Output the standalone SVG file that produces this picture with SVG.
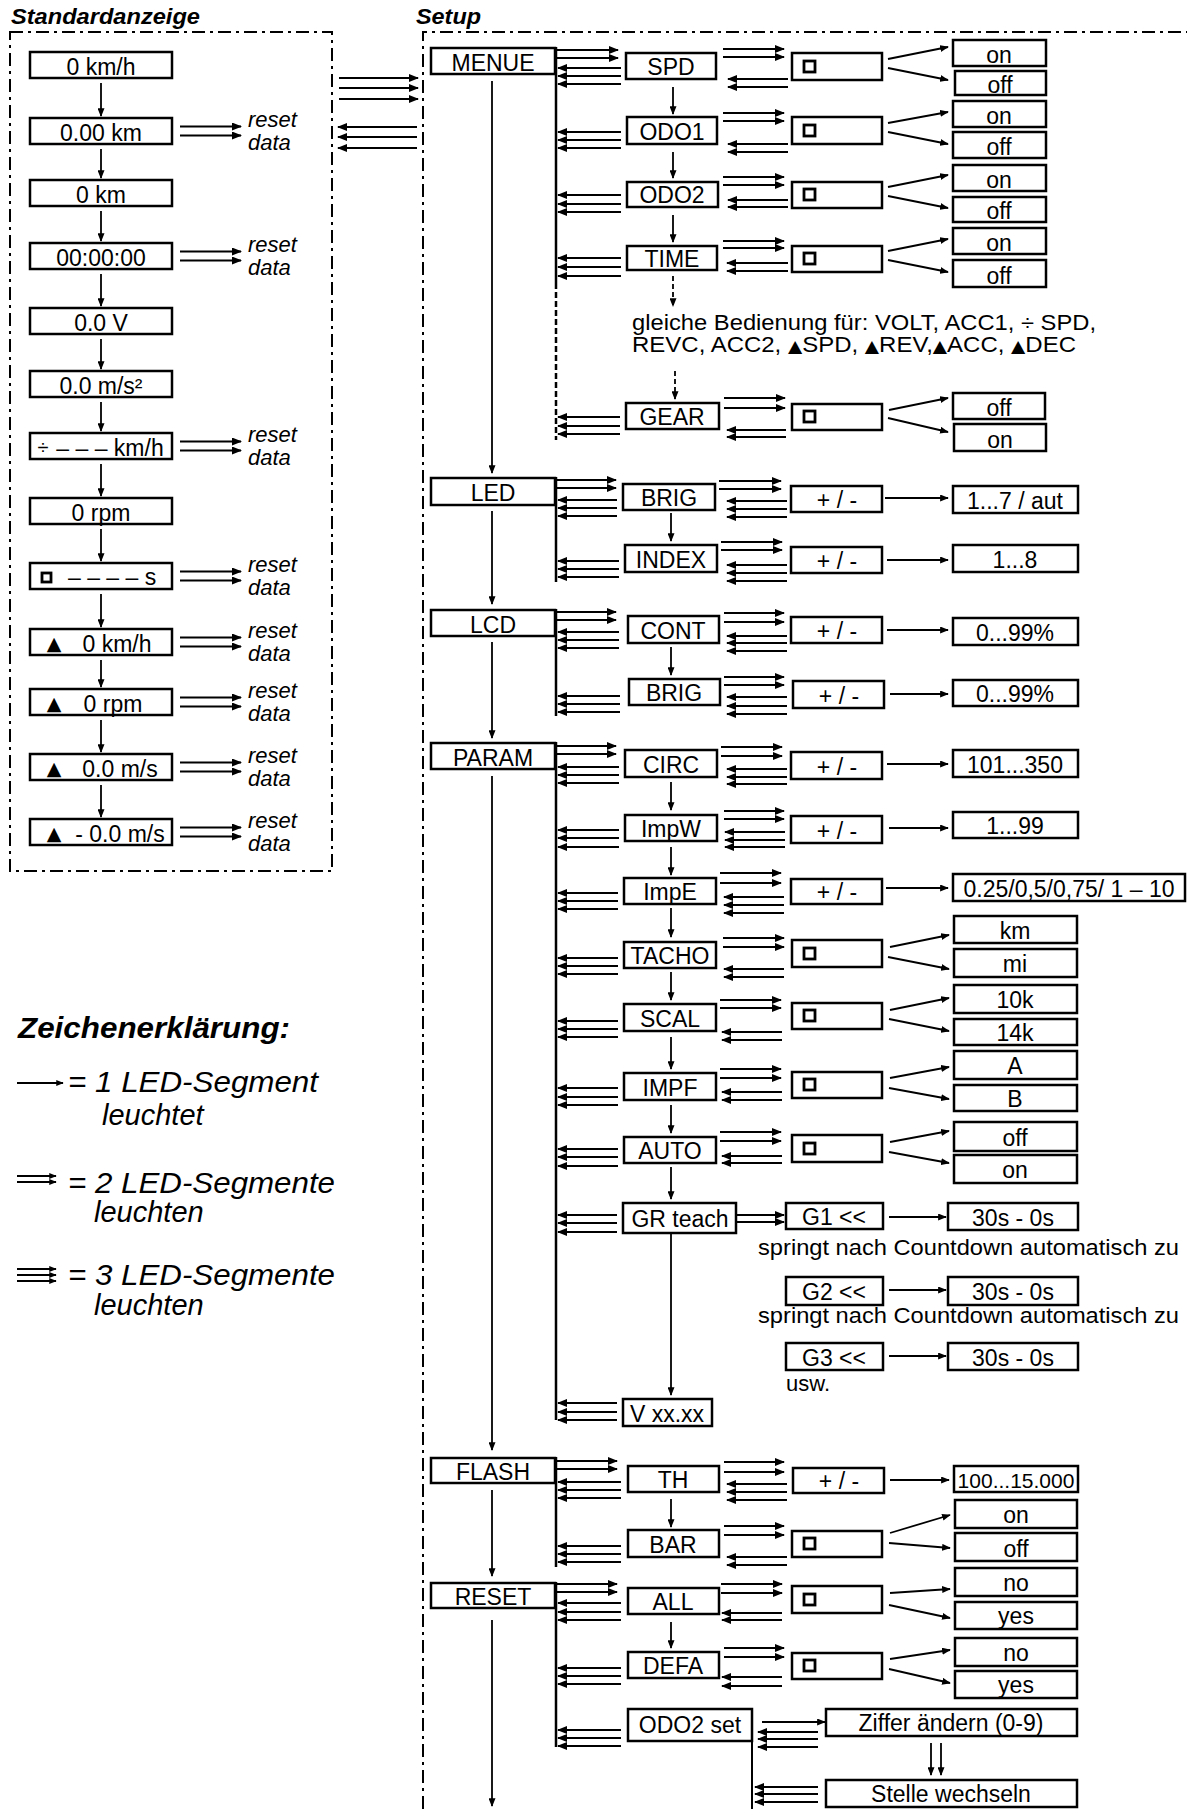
<svg xmlns="http://www.w3.org/2000/svg" width="1187" height="1809" viewBox="0 0 1187 1809">
<defs>
<style>
.b{fill:#fff;stroke:#000;stroke-width:2.5}
.t{font-family:"Liberation Sans",Arial,"DejaVu Sans",sans-serif;font-size:23px;text-anchor:middle;fill:#000}
.s{text-anchor:start}
.i{font-style:italic;text-anchor:start;font-size:22px}
.h{font-weight:bold;font-style:italic;text-anchor:start;font-size:22px}
.tri{font-family:"DejaVu Sans",sans-serif;font-size:19px;text-anchor:middle}
.tr2{font-family:"DejaVu Sans",sans-serif;font-size:17px}
.sq{fill:none;stroke:#000;stroke-width:2.8}
.fr{fill:none;stroke:#000;stroke-width:2;stroke-dasharray:13 5 3 5}
.c line{stroke:#000;stroke-width:1.8}
.ar{marker-end:url(#ah)}
.sm{marker-end:url(#as)}
.lg{marker-end:url(#al)}
.bar line{stroke:#000;stroke-width:2.5}
</style>
<marker id="ah" viewBox="0 0 10 8" refX="9" refY="4" markerWidth="10" markerHeight="8" markerUnits="userSpaceOnUse" orient="auto"><path d="M0,0L10,4L0,8z"/></marker>
<marker id="as" viewBox="0 0 10 8" refX="9" refY="4" markerWidth="9" markerHeight="7" markerUnits="userSpaceOnUse" orient="auto"><path d="M0,0L10,4L0,8z"/></marker>
<marker id="al" viewBox="0 0 10 8" refX="9" refY="4" markerWidth="8" markerHeight="6" markerUnits="userSpaceOnUse" orient="auto"><path d="M0,0L10,4L0,8z"/></marker>
</defs>
<rect width="1187" height="1809" fill="#fff"/>

<g id="frames">
<text class="t h" x="11" y="24" textLength="189" lengthAdjust="spacingAndGlyphs">Standardanzeige</text>
<rect class="fr" x="10" y="32" width="322" height="839"/>
<text class="t h" x="416" y="24" textLength="65" lengthAdjust="spacingAndGlyphs">Setup</text>
<path class="fr" d="M423,1809V32H1187"/>
</g>

<g id="standard">
<g id="sa1"><rect class="b" x="30" y="52" width="142" height="26"/><text class="t" x="101" y="75">0 km/h</text></g>
<g id="sa2"><rect class="b" x="30" y="118" width="142" height="26"/><text class="t" x="101" y="141">0.00 km</text></g>
<g id="sa3"><rect class="b" x="30" y="180" width="142" height="26"/><text class="t" x="101" y="203">0 km</text></g>
<g id="sa4"><rect class="b" x="30" y="243" width="142" height="26"/><text class="t" x="101" y="266">00:00:00</text></g>
<g id="sa5"><rect class="b" x="30" y="308" width="142" height="26"/><text class="t" x="101" y="331">0.0 V</text></g>
<g id="sa6"><rect class="b" x="30" y="371" width="142" height="26"/><text class="t" x="101" y="394">0.0 m/s²</text></g>
<g id="sa7"><rect class="b" x="30" y="433" width="142" height="26"/><text class="t" x="43" y="454" style="font-size:20px">÷</text><text class="t" x="110" y="456">– – – km/h</text></g>
<g id="sa8"><rect class="b" x="30" y="498" width="142" height="26"/><text class="t" x="101" y="521">0 rpm</text></g>
<g id="sa9"><rect class="b" x="30" y="563" width="142" height="26"/><rect class="sq" x="42" y="573" width="9" height="9"/><text class="t s" x="68" y="585">– – – – s</text></g>
<g id="sa10"><rect class="b" x="30" y="629" width="142" height="26"/><text class="tri" x="54" y="650">▲</text><text class="t" x="117" y="652">0 km/h</text></g>
<g id="sa11"><rect class="b" x="30" y="689" width="142" height="26"/><text class="tri" x="54" y="710">▲</text><text class="t" x="113" y="712">0 rpm</text></g>
<g id="sa12"><rect class="b" x="30" y="754" width="142" height="26"/><text class="tri" x="54" y="775">▲</text><text class="t" x="120" y="777">0.0 m/s</text></g>
<g id="sa13"><rect class="b" x="30" y="819" width="142" height="26"/><text class="tri" x="54" y="840">▲</text><text class="t" x="120" y="842">- 0.0 m/s</text></g>
<g id="reset-labels">
<text class="t i" x="248" y="127">reset</text><text class="t i" x="248" y="150">data</text>
<text class="t i" x="248" y="252">reset</text><text class="t i" x="248" y="275">data</text>
<text class="t i" x="248" y="442">reset</text><text class="t i" x="248" y="465">data</text>
<text class="t i" x="248" y="572">reset</text><text class="t i" x="248" y="595">data</text>
<text class="t i" x="248" y="638">reset</text><text class="t i" x="248" y="661">data</text>
<text class="t i" x="248" y="698">reset</text><text class="t i" x="248" y="721">data</text>
<text class="t i" x="248" y="763">reset</text><text class="t i" x="248" y="786">data</text>
<text class="t i" x="248" y="828">reset</text><text class="t i" x="248" y="851">data</text>
</g>
</g>

<g id="setup-main">
<g id="menue"><rect class="b" x="431" y="48" width="124" height="26"/><text class="t" x="493" y="71">MENUE</text></g>
<g id="led"><rect class="b" x="431" y="478" width="124" height="27"/><text class="t" x="493" y="501">LED</text></g>
<g id="lcd"><rect class="b" x="431" y="610" width="124" height="26"/><text class="t" x="493" y="633">LCD</text></g>
<g id="param"><rect class="b" x="431" y="743" width="124" height="26"/><text class="t" x="493" y="766">PARAM</text></g>
<g id="flash"><rect class="b" x="431" y="1458" width="124" height="25"/><text class="t" x="493" y="1480">FLASH</text></g>
<g id="reset"><rect class="b" x="431" y="1583" width="124" height="25"/><text class="t" x="493" y="1605">RESET</text></g>
</g>

<g id="setup-items">
<g id="spd"><rect class="b" x="626" y="53" width="90" height="26"/><text class="t" x="671" y="75">SPD</text></g>
<g id="odo1"><rect class="b" x="627" y="117" width="90" height="27"/><text class="t" x="672" y="140">ODO1</text></g>
<g id="odo2"><rect class="b" x="627" y="182" width="91" height="25"/><text class="t" x="672" y="203">ODO2</text></g>
<g id="time"><rect class="b" x="627" y="246" width="90" height="24"/><text class="t" x="672" y="267">TIME</text></g>
<g id="gleiche"><text class="t s" x="632" y="330" style="font-size:22px" textLength="464" lengthAdjust="spacingAndGlyphs">gleiche Bedienung für: VOLT, ACC1, ÷ SPD,</text><text class="t s" x="632" y="352" style="font-size:22px" textLength="444" lengthAdjust="spacingAndGlyphs">REVC, ACC2, <tspan class="tr2">▲</tspan>SPD, <tspan class="tr2">▲</tspan>REV,<tspan class="tr2">▲</tspan>ACC, <tspan class="tr2">▲</tspan>DEC</text></g>
<g id="gear"><rect class="b" x="626" y="403" width="93" height="26"/><text class="t" x="672" y="425">GEAR</text></g>
<g id="brig1"><rect class="b" x="623" y="484" width="92" height="26"/><text class="t" x="669" y="506">BRIG</text></g>
<g id="index"><rect class="b" x="625" y="545" width="92" height="27"/><text class="t" x="671" y="568">INDEX</text></g>
<g id="cont"><rect class="b" x="628" y="616" width="91" height="27"/><text class="t" x="673" y="639">CONT</text></g>
<g id="brig2"><rect class="b" x="629" y="679" width="91" height="26"/><text class="t" x="674" y="701">BRIG</text></g>
<g id="circ"><rect class="b" x="625" y="750" width="92" height="27"/><text class="t" x="671" y="773">CIRC</text></g>
<g id="impw"><rect class="b" x="625" y="815" width="92" height="26"/><text class="t" x="671" y="837">ImpW</text></g>
<g id="impe"><rect class="b" x="624" y="878" width="92" height="26"/><text class="t" x="670" y="900">ImpE</text></g>
<g id="tacho"><rect class="b" x="624" y="942" width="92" height="26"/><text class="t" x="670" y="964">TACHO</text></g>
<g id="scal"><rect class="b" x="624" y="1004" width="92" height="27"/><text class="t" x="670" y="1027">SCAL</text></g>
<g id="impf"><rect class="b" x="624" y="1073" width="92" height="27"/><text class="t" x="670" y="1096">IMPF</text></g>
<g id="auto"><rect class="b" x="624" y="1137" width="92" height="26"/><text class="t" x="670" y="1159">AUTO</text></g>
<g id="grteach"><rect class="b" x="623" y="1203" width="113" height="30"/><text class="t" x="680" y="1227">GR teach</text></g>
<g id="vxx"><rect class="b" x="623" y="1399" width="89" height="27"/><text class="t" x="667" y="1422">V xx.xx</text></g>
<g id="th"><rect class="b" x="628" y="1466" width="91" height="26"/><text class="t" x="673" y="1488">TH</text></g>
<g id="bar-item"><rect class="b" x="628" y="1530" width="91" height="27"/><text class="t" x="673" y="1553">BAR</text></g>
<g id="all"><rect class="b" x="628" y="1588" width="91" height="26"/><text class="t" x="673" y="1610">ALL</text></g>
<g id="defa"><rect class="b" x="628" y="1652" width="91" height="26"/><text class="t" x="673" y="1674">DEFA</text></g>
<g id="odo2set"><rect class="b" x="628" y="1709" width="124" height="32"/><line x1="752" y1="1741" x2="752" y2="1809" stroke="#000" stroke-width="2"/><text class="t" x="690" y="1733">ODO2 set</text></g>
</g>

<g id="value-boxes">
<g id="v-spd"><rect class="b" x="792" y="53" width="90" height="27"/><rect class="sq" x="804" y="61" width="11" height="11"/></g>
<g id="v-odo1"><rect class="b" x="792" y="117" width="90" height="27"/><rect class="sq" x="804" y="125" width="11" height="11"/></g>
<g id="v-odo2"><rect class="b" x="792" y="182" width="90" height="26"/><rect class="sq" x="804" y="189" width="11" height="11"/></g>
<g id="v-time"><rect class="b" x="792" y="246" width="90" height="26"/><rect class="sq" x="804" y="253" width="11" height="11"/></g>
<g id="v-gear"><rect class="b" x="792" y="404" width="90" height="26"/><rect class="sq" x="804" y="411" width="11" height="11"/></g>
<g id="v-tacho"><rect class="b" x="792" y="940" width="90" height="27"/><rect class="sq" x="804" y="948" width="11" height="11"/></g>
<g id="v-scal"><rect class="b" x="792" y="1003" width="90" height="26"/><rect class="sq" x="804" y="1010" width="11" height="11"/></g>
<g id="v-impf"><rect class="b" x="792" y="1072" width="90" height="26"/><rect class="sq" x="804" y="1079" width="11" height="11"/></g>
<g id="v-auto"><rect class="b" x="792" y="1135" width="90" height="27"/><rect class="sq" x="804" y="1143" width="11" height="11"/></g>
<g id="v-bar"><rect class="b" x="792" y="1531" width="90" height="26"/><rect class="sq" x="804" y="1538" width="11" height="11"/></g>
<g id="v-all"><rect class="b" x="792" y="1586" width="90" height="27"/><rect class="sq" x="804" y="1594" width="11" height="11"/></g>
<g id="v-defa"><rect class="b" x="792" y="1653" width="90" height="26"/><rect class="sq" x="804" y="1660" width="11" height="11"/></g>
<g id="pm-brig1"><rect class="b" x="791" y="486" width="91" height="26"/><text class="t" x="837" y="508">+ / -</text></g>
<g id="pm-index"><rect class="b" x="791" y="547" width="91" height="26"/><text class="t" x="837" y="569">+ / -</text></g>
<g id="pm-cont"><rect class="b" x="791" y="617" width="91" height="26"/><text class="t" x="837" y="639">+ / -</text></g>
<g id="pm-brig2"><rect class="b" x="793" y="681" width="91" height="27"/><text class="t" x="839" y="704">+ / -</text></g>
<g id="pm-circ"><rect class="b" x="791" y="752" width="91" height="27"/><text class="t" x="837" y="775">+ / -</text></g>
<g id="pm-impw"><rect class="b" x="791" y="816" width="91" height="27"/><text class="t" x="837" y="839">+ / -</text></g>
<g id="pm-impe"><rect class="b" x="791" y="879" width="91" height="25"/><text class="t" x="837" y="900">+ / -</text></g>
<g id="pm-th"><rect class="b" x="793" y="1468" width="91" height="25"/><text class="t" x="839" y="1489">+ / -</text></g>
</g>

<g id="results">
<g id="r-spd-on"><rect class="b" x="953" y="40" width="93" height="26"/><text class="t" x="999" y="63">on</text></g>
<g id="r-spd-off"><rect class="b" x="955" y="71" width="91" height="24"/><text class="t" x="1000" y="93">off</text></g>
<g id="r-odo1-on"><rect class="b" x="953" y="101" width="93" height="26"/><text class="t" x="999" y="124">on</text></g>
<g id="r-odo1-off"><rect class="b" x="953" y="132" width="93" height="26"/><text class="t" x="999" y="155">off</text></g>
<g id="r-odo2-on"><rect class="b" x="953" y="165" width="93" height="26"/><text class="t" x="999" y="188">on</text></g>
<g id="r-odo2-off"><rect class="b" x="953" y="197" width="93" height="25"/><text class="t" x="999" y="219">off</text></g>
<g id="r-time-on"><rect class="b" x="953" y="228" width="93" height="26"/><text class="t" x="999" y="251">on</text></g>
<g id="r-time-off"><rect class="b" x="953" y="260" width="93" height="27"/><text class="t" x="999" y="284">off</text></g>
<g id="r-gear-off"><rect class="b" x="953" y="393" width="92" height="26"/><text class="t" x="999" y="416">off</text></g>
<g id="r-gear-on"><rect class="b" x="954" y="424" width="92" height="27"/><text class="t" x="1000" y="448">on</text></g>
<g id="r-brig1"><rect class="b" x="953" y="486" width="125" height="27"/><text class="t" x="1015" y="509">1...7 / aut</text></g>
<g id="r-index"><rect class="b" x="953" y="545" width="125" height="27"/><text class="t" x="1015" y="568">1...8</text></g>
<g id="r-cont"><rect class="b" x="953" y="618" width="125" height="27"/><text class="t" x="1015" y="641">0...99%</text></g>
<g id="r-brig2"><rect class="b" x="953" y="680" width="125" height="26"/><text class="t" x="1015" y="702">0...99%</text></g>
<g id="r-circ"><rect class="b" x="953" y="750" width="125" height="27"/><text class="t" x="1015" y="773">101...350</text></g>
<g id="r-impw"><rect class="b" x="953" y="812" width="125" height="26"/><text class="t" x="1015" y="834">1...99</text></g>
<g id="r-impe"><rect class="b" x="953" y="874" width="232" height="27"/><text class="t" x="1069" y="897">0.25/0,5/0,75/ 1 – 10</text></g>
<g id="r-km"><rect class="b" x="954" y="916" width="123" height="27"/><text class="t" x="1015" y="939">km</text></g>
<g id="r-mi"><rect class="b" x="954" y="949" width="123" height="28"/><text class="t" x="1015" y="972">mi</text></g>
<g id="r-10k"><rect class="b" x="954" y="985" width="123" height="28"/><text class="t" x="1015" y="1008">10k</text></g>
<g id="r-14k"><rect class="b" x="954" y="1019" width="123" height="26"/><text class="t" x="1015" y="1041">14k</text></g>
<g id="r-a"><rect class="b" x="954" y="1051" width="123" height="28"/><text class="t" x="1015" y="1074">A</text></g>
<g id="r-b"><rect class="b" x="954" y="1085" width="123" height="26"/><text class="t" x="1015" y="1107">B</text></g>
<g id="r-auto-off"><rect class="b" x="954" y="1122" width="123" height="29"/><text class="t" x="1015" y="1146">off</text></g>
<g id="r-auto-on"><rect class="b" x="954" y="1155" width="123" height="28"/><text class="t" x="1015" y="1178">on</text></g>
<g id="r-th"><rect class="b" x="954" y="1466" width="124" height="26"/><text class="t" x="1016" y="1488" style="font-size:21px">100...15.000</text></g>
<g id="r-bar-on"><rect class="b" x="955" y="1500" width="122" height="28"/><text class="t" x="1016" y="1523">on</text></g>
<g id="r-bar-off"><rect class="b" x="955" y="1533" width="122" height="28"/><text class="t" x="1016" y="1557">off</text></g>
<g id="r-all-no"><rect class="b" x="955" y="1568" width="122" height="28"/><text class="t" x="1016" y="1591">no</text></g>
<g id="r-all-yes"><rect class="b" x="955" y="1602" width="122" height="27"/><text class="t" x="1016" y="1624">yes</text></g>
<g id="r-defa-no"><rect class="b" x="955" y="1638" width="122" height="28"/><text class="t" x="1016" y="1661">no</text></g>
<g id="r-defa-yes"><rect class="b" x="955" y="1671" width="122" height="27"/><text class="t" x="1016" y="1693">yes</text></g>
<g id="g1"><rect class="b" x="786" y="1203" width="97" height="26"/><text class="t" x="834" y="1225">G1 &lt;&lt;</text></g>
<g id="g1t"><rect class="b" x="948" y="1203" width="130" height="27"/><text class="t" x="1013" y="1226">30s - 0s</text></g>
<g id="g2"><rect class="b" x="786" y="1277" width="97" height="28"/><text class="t" x="834" y="1300">G2 &lt;&lt;</text></g>
<g id="g2t"><rect class="b" x="948" y="1277" width="130" height="28"/><text class="t" x="1013" y="1300">30s - 0s</text></g>
<g id="g3"><rect class="b" x="786" y="1343" width="97" height="27"/><text class="t" x="834" y="1366">G3 &lt;&lt;</text></g>
<g id="g3t"><rect class="b" x="948" y="1343" width="130" height="27"/><text class="t" x="1013" y="1366">30s - 0s</text></g>
<g id="springt"><text class="t s" x="758" y="1255" style="font-size:22px" textLength="421" lengthAdjust="spacingAndGlyphs">springt nach Countdown automatisch zu</text><text class="t s" x="758" y="1323" style="font-size:22px" textLength="421" lengthAdjust="spacingAndGlyphs">springt nach Countdown automatisch zu</text><text class="t s" x="786" y="1391" style="font-size:22px">usw.</text></g>
<g id="ziffer"><rect class="b" x="826" y="1709" width="251" height="27"/><text class="t" x="951" y="1731">Ziffer ändern (0-9)</text></g>
<g id="stelle"><rect class="b" x="826" y="1780" width="251" height="27"/><text class="t" x="951" y="1802">Stelle wechseln</text></g>
</g>

<g id="legend">
<text class="t h" x="18" y="1038" style="font-size:30px" textLength="272" lengthAdjust="spacingAndGlyphs">Zeichenerklärung:</text>
<g class="c"><line class="lg" x1="17" y1="1083" x2="63" y2="1083"/>
<line class="lg" x1="17" y1="1176" x2="56" y2="1176"/><line class="lg" x1="17" y1="1182" x2="56" y2="1182"/>
<line class="lg" x1="17" y1="1269" x2="56" y2="1269"/><line class="lg" x1="17" y1="1275" x2="56" y2="1275"/><line class="lg" x1="17" y1="1281" x2="56" y2="1281"/></g>
<text class="t i" x="68" y="1092" style="font-size:29px" textLength="250" lengthAdjust="spacingAndGlyphs">= 1 LED-Segment</text>
<text class="t i" x="102" y="1125" style="font-size:29px">leuchtet</text>
<text class="t i" x="68" y="1193" style="font-size:29px" textLength="267" lengthAdjust="spacingAndGlyphs">= 2 LED-Segmente</text>
<text class="t i" x="94" y="1222" style="font-size:29px">leuchten</text>
<text class="t i" x="68" y="1285" style="font-size:29px" textLength="267" lengthAdjust="spacingAndGlyphs">= 3 LED-Segmente</text>
<text class="t i" x="94" y="1315" style="font-size:29px">leuchten</text>
</g>

<g id="connectors" class="c">
<g class="bar">
<line x1="556" y1="47" x2="556" y2="283"/>
<line x1="556" y1="283" x2="556" y2="440" style="stroke-dasharray:6 3"/>
<line x1="556" y1="477" x2="556" y2="582"/>
<line x1="556" y1="609" x2="556" y2="716"/>
<line x1="556" y1="742" x2="556" y2="1420"/>
<line x1="556" y1="1457" x2="556" y2="1567"/>
<line x1="556" y1="1582" x2="556" y2="1747"/>
</g>
<line class="sm" x1="101" y1="83" x2="101" y2="116"/>
<line class="sm" x1="101" y1="149" x2="101" y2="178"/>
<line class="sm" x1="101" y1="211" x2="101" y2="241"/>
<line class="sm" x1="101" y1="274" x2="101" y2="306"/>
<line class="sm" x1="101" y1="339" x2="101" y2="369"/>
<line class="sm" x1="101" y1="402" x2="101" y2="431"/>
<line class="sm" x1="101" y1="464" x2="101" y2="496"/>
<line class="sm" x1="101" y1="529" x2="101" y2="561"/>
<line class="sm" x1="101" y1="594" x2="101" y2="627"/>
<line class="sm" x1="101" y1="660" x2="101" y2="687"/>
<line class="sm" x1="101" y1="720" x2="101" y2="752"/>
<line class="sm" x1="101" y1="785" x2="101" y2="817"/>
<line class="ar" x1="180" y1="126.5" x2="241" y2="126.5"/><line class="ar" x1="180" y1="135.5" x2="241" y2="135.5"/>
<line class="ar" x1="180" y1="251.5" x2="241" y2="251.5"/><line class="ar" x1="180" y1="260.5" x2="241" y2="260.5"/>
<line class="ar" x1="180" y1="441.5" x2="241" y2="441.5"/><line class="ar" x1="180" y1="450.5" x2="241" y2="450.5"/>
<line class="ar" x1="180" y1="571.5" x2="241" y2="571.5"/><line class="ar" x1="180" y1="580.5" x2="241" y2="580.5"/>
<line class="ar" x1="180" y1="637.5" x2="241" y2="637.5"/><line class="ar" x1="180" y1="646.5" x2="241" y2="646.5"/>
<line class="ar" x1="180" y1="697.5" x2="241" y2="697.5"/><line class="ar" x1="180" y1="706.5" x2="241" y2="706.5"/>
<line class="ar" x1="180" y1="762.5" x2="241" y2="762.5"/><line class="ar" x1="180" y1="771.5" x2="241" y2="771.5"/>
<line class="ar" x1="180" y1="827.5" x2="241" y2="827.5"/><line class="ar" x1="180" y1="836.5" x2="241" y2="836.5"/>
<line class="ar" x1="339" y1="78" x2="418" y2="78"/><line class="ar" x1="339" y1="88" x2="418" y2="88"/><line class="ar" x1="339" y1="99" x2="418" y2="99"/>
<line class="ar" x1="417" y1="127" x2="338" y2="127"/><line class="ar" x1="417" y1="137" x2="338" y2="137"/><line class="ar" x1="417" y1="148" x2="338" y2="148"/>
<line class="sm" x1="492" y1="81" x2="492" y2="473"/>
<line class="sm" x1="492" y1="511" x2="492" y2="604"/>
<line class="sm" x1="492" y1="642" x2="492" y2="738"/>
<line class="sm" x1="492" y1="776" x2="492" y2="1450"/>
<line class="sm" x1="492" y1="1490" x2="492" y2="1576"/>
<line class="sm" x1="492" y1="1620" x2="492" y2="1806"/>
<line class="ar" x1="557" y1="50" x2="618" y2="50"/><line class="ar" x1="557" y1="58" x2="618" y2="58"/>
<line class="ar" x1="557" y1="480" x2="616" y2="480"/><line class="ar" x1="557" y1="488" x2="616" y2="488"/>
<line class="ar" x1="557" y1="612" x2="616" y2="612"/><line class="ar" x1="557" y1="620" x2="616" y2="620"/>
<line class="ar" x1="557" y1="746" x2="616" y2="746"/><line class="ar" x1="557" y1="754" x2="616" y2="754"/>
<line class="ar" x1="557" y1="1461" x2="617" y2="1461"/><line class="ar" x1="557" y1="1469" x2="617" y2="1469"/>
<line class="ar" x1="557" y1="1584" x2="617" y2="1584"/><line class="ar" x1="557" y1="1592" x2="617" y2="1592"/>
<line class="ar" x1="621" y1="68" x2="558" y2="68"/><line class="ar" x1="621" y1="76" x2="558" y2="76"/><line class="ar" x1="621" y1="84" x2="558" y2="84"/>
<line class="ar" x1="621" y1="132" x2="558" y2="132"/><line class="ar" x1="621" y1="140" x2="558" y2="140"/><line class="ar" x1="621" y1="148" x2="558" y2="148"/>
<line class="ar" x1="621" y1="195" x2="558" y2="195"/><line class="ar" x1="621" y1="204" x2="558" y2="204"/><line class="ar" x1="621" y1="212" x2="558" y2="212"/>
<line class="ar" x1="621" y1="258" x2="558" y2="258"/><line class="ar" x1="621" y1="267" x2="558" y2="267"/><line class="ar" x1="621" y1="276" x2="558" y2="276"/>
<line class="ar" x1="620" y1="417" x2="558" y2="417"/><line class="ar" x1="620" y1="426" x2="558" y2="426"/><line class="ar" x1="620" y1="434" x2="558" y2="434"/>
<line class="ar" x1="617" y1="500" x2="558" y2="500"/><line class="ar" x1="617" y1="508" x2="558" y2="508"/><line class="ar" x1="617" y1="516" x2="558" y2="516"/>
<line class="ar" x1="619" y1="561" x2="558" y2="561"/><line class="ar" x1="619" y1="569" x2="558" y2="569"/><line class="ar" x1="619" y1="577" x2="558" y2="577"/>
<line class="ar" x1="619" y1="632" x2="558" y2="632"/><line class="ar" x1="619" y1="640" x2="558" y2="640"/><line class="ar" x1="619" y1="648" x2="558" y2="648"/>
<line class="ar" x1="620" y1="696" x2="558" y2="696"/><line class="ar" x1="620" y1="704" x2="558" y2="704"/><line class="ar" x1="620" y1="712" x2="558" y2="712"/>
<line class="ar" x1="619" y1="767" x2="558" y2="767"/><line class="ar" x1="619" y1="775" x2="558" y2="775"/><line class="ar" x1="619" y1="783" x2="558" y2="783"/>
<line class="ar" x1="619" y1="830" x2="558" y2="830"/><line class="ar" x1="619" y1="838" x2="558" y2="838"/><line class="ar" x1="619" y1="847" x2="558" y2="847"/>
<line class="ar" x1="618" y1="893" x2="558" y2="893"/><line class="ar" x1="618" y1="901" x2="558" y2="901"/><line class="ar" x1="618" y1="909" x2="558" y2="909"/>
<line class="ar" x1="618" y1="958" x2="558" y2="958"/><line class="ar" x1="618" y1="966" x2="558" y2="966"/><line class="ar" x1="618" y1="974" x2="558" y2="974"/>
<line class="ar" x1="618" y1="1021" x2="558" y2="1021"/><line class="ar" x1="618" y1="1029" x2="558" y2="1029"/><line class="ar" x1="618" y1="1037" x2="558" y2="1037"/>
<line class="ar" x1="618" y1="1088" x2="558" y2="1088"/><line class="ar" x1="618" y1="1097" x2="558" y2="1097"/><line class="ar" x1="618" y1="1105" x2="558" y2="1105"/>
<line class="ar" x1="618" y1="1149" x2="558" y2="1149"/><line class="ar" x1="618" y1="1157" x2="558" y2="1157"/><line class="ar" x1="618" y1="1166" x2="558" y2="1166"/>
<line class="ar" x1="617" y1="1215" x2="558" y2="1215"/><line class="ar" x1="617" y1="1223" x2="558" y2="1223"/><line class="ar" x1="617" y1="1232" x2="558" y2="1232"/>
<line class="ar" x1="617" y1="1403" x2="558" y2="1403"/><line class="ar" x1="617" y1="1412" x2="558" y2="1412"/><line class="ar" x1="617" y1="1420" x2="558" y2="1420"/>
<line class="ar" x1="621" y1="1482" x2="558" y2="1482"/><line class="ar" x1="621" y1="1490" x2="558" y2="1490"/><line class="ar" x1="621" y1="1498" x2="558" y2="1498"/>
<line class="ar" x1="621" y1="1546" x2="558" y2="1546"/><line class="ar" x1="621" y1="1554" x2="558" y2="1554"/><line class="ar" x1="621" y1="1562" x2="558" y2="1562"/>
<line class="ar" x1="621" y1="1603" x2="558" y2="1603"/><line class="ar" x1="621" y1="1612" x2="558" y2="1612"/><line class="ar" x1="621" y1="1620" x2="558" y2="1620"/>
<line class="ar" x1="621" y1="1668" x2="558" y2="1668"/><line class="ar" x1="621" y1="1676" x2="558" y2="1676"/><line class="ar" x1="621" y1="1684" x2="558" y2="1684"/>
<line class="ar" x1="621" y1="1730" x2="558" y2="1730"/><line class="ar" x1="621" y1="1738" x2="558" y2="1738"/><line class="ar" x1="621" y1="1746" x2="558" y2="1746"/>
<line class="sm" x1="673" y1="87" x2="673" y2="114"/>
<line class="sm" x1="673" y1="152" x2="673" y2="178"/>
<line class="sm" x1="673" y1="215" x2="673" y2="242"/>
<line class="sm" x1="673" y1="276" x2="673" y2="306" style="stroke-dasharray:5 3"/>
<line class="sm" x1="675" y1="371" x2="675" y2="399" style="stroke-dasharray:5 3"/>
<line class="sm" x1="671" y1="513" x2="671" y2="541"/>
<line class="sm" x1="671" y1="647" x2="671" y2="675"/>
<line class="sm" x1="671" y1="782" x2="671" y2="810"/>
<line class="sm" x1="671" y1="847" x2="671" y2="875"/>
<line class="sm" x1="671" y1="908" x2="671" y2="937"/>
<line class="sm" x1="671" y1="972" x2="671" y2="1000"/>
<line class="sm" x1="671" y1="1037" x2="671" y2="1069"/>
<line class="sm" x1="671" y1="1105" x2="671" y2="1133"/>
<line class="sm" x1="671" y1="1167" x2="671" y2="1199"/>
<line class="sm" x1="671" y1="1233" x2="671" y2="1395"/>
<line class="sm" x1="671" y1="1499" x2="671" y2="1527"/>
<line class="sm" x1="671" y1="1622" x2="671" y2="1648"/>
<line class="ar" x1="723" y1="49" x2="784" y2="49"/><line class="ar" x1="723" y1="57" x2="784" y2="57"/>
<line class="ar" x1="723" y1="113" x2="784" y2="113"/><line class="ar" x1="723" y1="121" x2="784" y2="121"/>
<line class="ar" x1="723" y1="177" x2="784" y2="177"/><line class="ar" x1="723" y1="185" x2="784" y2="185"/>
<line class="ar" x1="723" y1="241" x2="784" y2="241"/><line class="ar" x1="723" y1="248" x2="784" y2="248"/>
<line class="ar" x1="724" y1="398" x2="785" y2="398"/><line class="ar" x1="724" y1="408" x2="785" y2="408"/>
<line class="ar" x1="719" y1="481" x2="781" y2="481"/><line class="ar" x1="719" y1="489" x2="781" y2="489"/>
<line class="ar" x1="721" y1="542" x2="782" y2="542"/><line class="ar" x1="721" y1="550" x2="782" y2="550"/>
<line class="ar" x1="724" y1="613" x2="784" y2="613"/><line class="ar" x1="724" y1="622" x2="784" y2="622"/>
<line class="ar" x1="724" y1="677" x2="784" y2="677"/><line class="ar" x1="724" y1="685" x2="784" y2="685"/>
<line class="ar" x1="721" y1="747" x2="782" y2="747"/><line class="ar" x1="721" y1="756" x2="782" y2="756"/>
<line class="ar" x1="724" y1="811" x2="784" y2="811"/><line class="ar" x1="724" y1="819" x2="784" y2="819"/>
<line class="ar" x1="720" y1="873" x2="781" y2="873"/><line class="ar" x1="720" y1="883" x2="781" y2="883"/>
<line class="ar" x1="723" y1="938" x2="784" y2="938"/><line class="ar" x1="723" y1="947" x2="784" y2="947"/>
<line class="ar" x1="720" y1="1000" x2="781" y2="1000"/><line class="ar" x1="720" y1="1008" x2="781" y2="1008"/>
<line class="ar" x1="720" y1="1069" x2="781" y2="1069"/><line class="ar" x1="720" y1="1078" x2="781" y2="1078"/>
<line class="ar" x1="720" y1="1132" x2="781" y2="1132"/><line class="ar" x1="720" y1="1141" x2="781" y2="1141"/>
<line class="ar" x1="724" y1="1462" x2="784" y2="1462"/><line class="ar" x1="724" y1="1472" x2="784" y2="1472"/>
<line class="ar" x1="724" y1="1526" x2="784" y2="1526"/><line class="ar" x1="724" y1="1535" x2="784" y2="1535"/>
<line class="ar" x1="721" y1="1584" x2="782" y2="1584"/><line class="ar" x1="721" y1="1593" x2="782" y2="1593"/>
<line class="ar" x1="724" y1="1648" x2="784" y2="1648"/><line class="ar" x1="724" y1="1657" x2="784" y2="1657"/>
<line class="ar" x1="788" y1="79" x2="728" y2="79"/><line class="ar" x1="788" y1="87" x2="728" y2="87"/>
<line class="ar" x1="788" y1="144" x2="728" y2="144"/><line class="ar" x1="788" y1="152" x2="728" y2="152"/>
<line class="ar" x1="788" y1="200" x2="728" y2="200"/><line class="ar" x1="788" y1="207" x2="728" y2="207"/>
<line class="ar" x1="788" y1="263" x2="727" y2="263"/><line class="ar" x1="788" y1="271" x2="727" y2="271"/>
<line class="ar" x1="786" y1="430" x2="727" y2="430"/><line class="ar" x1="786" y1="437" x2="727" y2="437"/>
<line class="ar" x1="787" y1="501" x2="727" y2="501"/><line class="ar" x1="787" y1="509" x2="727" y2="509"/><line class="ar" x1="787" y1="517" x2="727" y2="517"/>
<line class="ar" x1="787" y1="565" x2="727" y2="565"/><line class="ar" x1="787" y1="573" x2="727" y2="573"/><line class="ar" x1="787" y1="581" x2="727" y2="581"/>
<line class="ar" x1="787" y1="636" x2="727" y2="636"/><line class="ar" x1="787" y1="643" x2="727" y2="643"/><line class="ar" x1="787" y1="651" x2="727" y2="651"/>
<line class="ar" x1="787" y1="697" x2="727" y2="697"/><line class="ar" x1="787" y1="706" x2="727" y2="706"/><line class="ar" x1="787" y1="714" x2="727" y2="714"/>
<line class="ar" x1="787" y1="769" x2="727" y2="769"/><line class="ar" x1="787" y1="777" x2="727" y2="777"/><line class="ar" x1="787" y1="784" x2="727" y2="784"/>
<line class="ar" x1="785" y1="832" x2="725" y2="832"/><line class="ar" x1="785" y1="840" x2="725" y2="840"/><line class="ar" x1="785" y1="847" x2="725" y2="847"/>
<line class="ar" x1="784" y1="897" x2="724" y2="897"/><line class="ar" x1="784" y1="905" x2="724" y2="905"/><line class="ar" x1="784" y1="913" x2="724" y2="913"/>
<line class="ar" x1="784" y1="969" x2="724" y2="969"/><line class="ar" x1="784" y1="977" x2="724" y2="977"/>
<line class="ar" x1="782" y1="1032" x2="722" y2="1032"/><line class="ar" x1="782" y1="1040" x2="722" y2="1040"/>
<line class="ar" x1="782" y1="1092" x2="722" y2="1092"/><line class="ar" x1="782" y1="1100" x2="722" y2="1100"/>
<line class="ar" x1="782" y1="1156" x2="722" y2="1156"/><line class="ar" x1="782" y1="1163" x2="722" y2="1163"/>
<line class="ar" x1="787" y1="1484" x2="727" y2="1484"/><line class="ar" x1="787" y1="1492" x2="727" y2="1492"/><line class="ar" x1="787" y1="1500" x2="727" y2="1500"/>
<line class="ar" x1="787" y1="1557" x2="727" y2="1557"/><line class="ar" x1="787" y1="1565" x2="727" y2="1565"/>
<line class="ar" x1="782" y1="1613" x2="722" y2="1613"/><line class="ar" x1="782" y1="1620" x2="722" y2="1620"/>
<line class="ar" x1="782" y1="1677" x2="722" y2="1677"/><line class="ar" x1="782" y1="1686" x2="722" y2="1686"/>
<line class="sm" x1="885" y1="498" x2="948" y2="498"/>
<line class="sm" x1="887" y1="560" x2="948" y2="560"/>
<line class="sm" x1="887" y1="630" x2="948" y2="630"/>
<line class="sm" x1="890" y1="694" x2="948" y2="694"/>
<line class="sm" x1="887" y1="764" x2="948" y2="764"/>
<line class="sm" x1="889" y1="828" x2="948" y2="828"/>
<line class="sm" x1="886" y1="888" x2="948" y2="888"/>
<line class="sm" x1="890" y1="1480" x2="949" y2="1480"/>
<line class="sm" x1="888" y1="59" x2="948" y2="47"/><line class="sm" x1="888" y1="68" x2="948" y2="80"/>
<line class="sm" x1="888" y1="123" x2="948" y2="112"/><line class="sm" x1="888" y1="132" x2="948" y2="144"/>
<line class="sm" x1="888" y1="187" x2="948" y2="175"/><line class="sm" x1="888" y1="196" x2="948" y2="208"/>
<line class="sm" x1="888" y1="251" x2="948" y2="239"/><line class="sm" x1="888" y1="260" x2="948" y2="272"/>
<line class="sm" x1="889" y1="410" x2="948" y2="398"/><line class="sm" x1="888" y1="418" x2="948" y2="432"/>
<line class="sm" x1="890" y1="947" x2="949" y2="935"/><line class="sm" x1="888" y1="957" x2="949" y2="969"/>
<line class="sm" x1="890" y1="1010" x2="949" y2="998"/><line class="sm" x1="889" y1="1019" x2="949" y2="1031"/>
<line class="sm" x1="890" y1="1078" x2="949" y2="1067"/><line class="sm" x1="889" y1="1088" x2="949" y2="1099"/>
<line class="sm" x1="890" y1="1142" x2="949" y2="1131"/><line class="sm" x1="889" y1="1152" x2="949" y2="1163"/>
<line class="sm" x1="890" y1="1533" x2="950" y2="1515"/><line class="sm" x1="889" y1="1543" x2="950" y2="1548"/>
<line class="sm" x1="890" y1="1593" x2="950" y2="1589"/><line class="sm" x1="889" y1="1605" x2="950" y2="1618"/>
<line class="sm" x1="890" y1="1659" x2="950" y2="1650"/><line class="sm" x1="889" y1="1669" x2="950" y2="1683"/>
<line class="ar" x1="737" y1="1215" x2="784" y2="1215"/><line class="ar" x1="737" y1="1222" x2="784" y2="1222"/>
<line class="sm" x1="889" y1="1217" x2="946" y2="1217"/>
<line class="sm" x1="889" y1="1290" x2="946" y2="1290"/>
<line class="sm" x1="889" y1="1356" x2="946" y2="1356"/>
<line class="sm" x1="762" y1="1722" x2="825" y2="1722"/>
<line class="ar" x1="818" y1="1732" x2="758" y2="1732"/><line class="ar" x1="818" y1="1739" x2="758" y2="1739"/><line class="ar" x1="818" y1="1747" x2="758" y2="1747"/>
<line class="sm" x1="931" y1="1743" x2="931" y2="1775"/><line class="sm" x1="941" y1="1743" x2="941" y2="1775"/>
<line class="ar" x1="818" y1="1787" x2="755" y2="1787"/><line class="ar" x1="818" y1="1794" x2="755" y2="1794"/><line class="ar" x1="818" y1="1802" x2="755" y2="1802"/>
</g>
</svg>
